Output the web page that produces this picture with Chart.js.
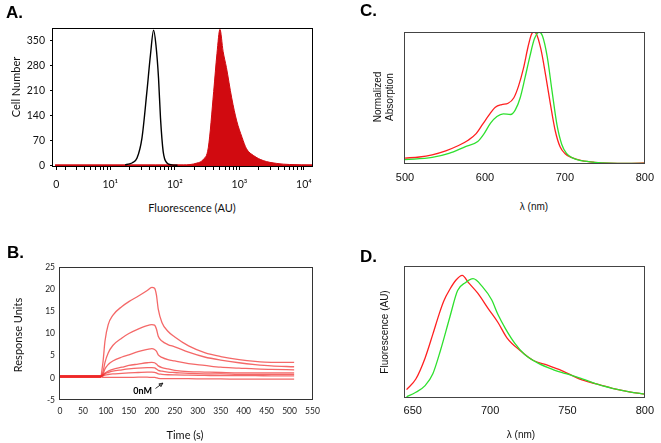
<!DOCTYPE html>
<html>
<head>
<meta charset="utf-8">
<script src="https://cdn.jsdelivr.net/npm/chart.js@4.4.0/dist/chart.umd.min.js"></script>
<style>
  body { margin: 0; background: #fff; }
  #fig { position: relative; width: 661px; height: 443px; overflow: hidden; background: #fff; }
  canvas { position: absolute; }
  .txt { position: absolute; white-space: nowrap; transform: translate(-50%, -50%); color: #111; }
  .rot { transform: translate(-50%, -50%) rotate(-90deg); }
  .letter { position: absolute; font: bold 17px "Liberation Sans", Arial, sans-serif; transform: translateY(-50%); color: #000; }
  .gill { font: 11px Lato, sans-serif; }
  .ari { font: 10px "Liberation Sans", Arial, sans-serif; text-align: center; line-height: 12px; }
</style>
</head>
<body>
<div id="fig">
  <canvas id="chart-a" style="left:0;top:0" width="330" height="200"></canvas>
  <canvas id="chart-b" style="left:0;top:230px" width="330" height="213"></canvas>
  <canvas id="chart-c" style="left:330px;top:0" width="331" height="200"></canvas>
  <canvas id="chart-d" style="left:330px;top:230px" width="331" height="213"></canvas>

  <div class="letter" style="left:6px;top:12.5px">A.</div>
  <div class="letter" style="left:7px;top:253px">B.</div>
  <div class="letter" style="left:360px;top:11px">C.</div>
  <div class="letter" style="left:360px;top:257px">D.</div>

  <div class="txt rot gill" style="left:15px;top:87px">Cell Number</div>
  <div class="txt gill" style="left:192px;top:207px">Fluorescence (AU)</div>
  <div class="txt rot gill" style="left:17px;top:335px">Response Units</div>
  <div class="txt gill" style="left:185px;top:434px">Time (s)</div>
  <div class="txt rot ari" style="left:384px;top:97px">Normalized<br>Absorption</div>
  <div class="txt ari" style="left:534px;top:207px">λ (nm)</div>
  <div class="txt rot ari" style="left:385px;top:332px">Fluorescence (AU)</div>
  <div class="txt ari" style="left:521px;top:435px">λ (nm)</div>
</div>
<script>
(function() {
  // A. flow cytometry histograms
  const FLUO_TICKS = [1.46, 10, 100, 1000, 10000];
  const FLUO_TICK_LABELS = ["0", "10¹", "10²", "10³", "10⁴"];
  const FLUO_MINOR = [2, 3, 4, 5, 6, 7, 8, 9, 20, 30, 40, 50, 60, 70, 80, 90,
    200, 300, 400, 500, 600, 700, 800, 900, 2000, 3000, 4000, 5000, 6000, 7000, 8000, 9000];
  const CELL_TICKS = [0, 70, 140, 210, 280, 350];
  const BLACK_FLUO = [17, 20, 22, 26, 31, 37, 42, 47, 51, 56, 60, 66, 75, 90, 110];
  const BLACK_COUNT = [2, 5, 8, 21, 77, 208, 311, 380, 339, 245, 134, 40, 8, 2, 1];
  const RED_FLUO = [1.4, 50, 135, 219, 275, 330, 400, 450, 500, 560, 630, 760, 910, 1100, 1290, 1660, 2340, 3800, 6000, 13800];
  const RED_COUNT = [2, 2, 2, 7, 17, 50, 208, 315, 382, 320, 275, 190, 125, 79, 47, 28, 14, 6, 3, 2];

  // B. binding response curves
  const TIME_S = [0, 50, 89, 91, 94, 98, 105, 115, 135, 150, 170, 190, 200, 206, 210, 214, 222, 235, 250, 280, 315, 350, 390, 425, 460, 510];
  const RU_1 = [0.3, 0.3, 0.3, 1.5, 3.9, 8.3, 12, 14.1, 16.1, 17.2, 18.4, 19.7, 20.4, 20.2, 18.7, 15.5, 12.5, 10.5, 9.2, 7.2, 5.7, 4.8, 4.1, 3.7, 3.5, 3.5];
  const RU_2 = [0.3, 0.3, 0.3, 0.6, 1.5, 3.5, 5.6, 7.3, 9.0, 10.0, 11.0, 11.8, 12.0, 11.9, 11.0, 9.4, 8.3, 7.5, 7.0, 5.8, 4.7, 4.0, 3.4, 3.0, 2.7, 2.5];
  const RU_3 = [0.3, 0.3, 0.3, 0.5, 0.9, 2.0, 3.0, 3.8, 4.7, 5.2, 5.9, 6.4, 6.6, 6.4, 6.0, 5.2, 4.6, 4.1, 3.8, 3.2, 2.8, 2.4, 2.2, 2.0, 1.9, 1.8];
  const RU_4 = [0.3, 0.3, 0.3, 0.4, 0.7, 1.1, 1.5, 1.9, 2.4, 2.8, 3.1, 3.4, 3.5, 3.4, 3.1, 2.7, 2.3, 2.0, 1.7, 1.4, 1.3, 1.2, 1.1, 1.1, 1.1, 1.1];
  const RU_5 = [0.3, 0.3, 0.3, 0.35, 0.6, 0.9, 1.2, 1.5, 1.8, 2.0, 2.2, 2.3, 2.3, 2.25, 2.0, 1.7, 1.5, 1.3, 1.2, 1.0, 0.9, 0.9, 0.8, 0.8, 0.8, 0.8];
  const RU_6 = [0.3, 0.3, 0.3, 0.3, 0.45, 0.6, 0.75, 0.9, 1.0, 1.1, 1.2, 1.3, 1.3, 1.25, 1.1, 0.9, 0.8, 0.7, 0.65, 0.6, 0.55, 0.5, 0.5, 0.5, 0.45, 0.45];
  const RU_0NM = [0.3, 0.3, 0.3, 0.2, 0.1, 0.1, 0.1, 0.1, 0.1, 0.1, 0.15, 0.15, 0.1, 0.1, 0.0, -0.1, -0.2, -0.2, -0.2, -0.2, -0.25, -0.25, -0.3, -0.3, -0.3, -0.3];
  const RU_SERIES = [RU_1, RU_2, RU_3, RU_4, RU_5, RU_6, RU_0NM];

  // C. absorption spectra
  const ABS_RED_NM = [500, 518, 534, 551, 567, 579, 589, 597, 605, 613, 621, 629, 636, 642, 648, 654, 658, 661, 664, 670, 676, 682, 688, 694, 700, 708, 721, 737, 777, 800];
  const ABS_RED = [0.045, 0.053, 0.07, 0.10, 0.14, 0.18, 0.23, 0.30, 0.37, 0.43, 0.45, 0.46, 0.50, 0.59, 0.72, 0.89, 0.98, 1.0, 0.99, 0.87, 0.67, 0.45, 0.25, 0.13, 0.08, 0.05, 0.025, 0.013, 0.005, 0.008];
  const ABS_GREEN_NM = [500, 534, 555, 575, 591, 599, 607, 615, 623, 632, 638, 644, 650, 656, 662, 668, 672, 678, 684, 690, 696, 702, 710, 721, 737, 777, 800];
  const ABS_GREEN = [0.033, 0.05, 0.08, 0.13, 0.17, 0.23, 0.31, 0.36, 0.38, 0.375, 0.41, 0.50, 0.65, 0.81, 0.95, 1.0, 0.97, 0.81, 0.55, 0.30, 0.15, 0.08, 0.045, 0.025, 0.013, 0.005, 0.005];

  // D. emission spectra
  const EM_TICKS = [650, 700, 750, 800];
  const EM_RED_NM = [646, 652, 658, 663, 667, 670, 674, 678, 682, 686, 692, 699, 705, 711, 720, 728, 737, 747, 758, 768, 779, 790, 800];
  const EM_RED = [0.06, 0.14, 0.30, 0.48, 0.63, 0.73, 0.82, 0.89, 0.925, 0.87, 0.79, 0.67, 0.57, 0.45, 0.35, 0.28, 0.245, 0.20, 0.14, 0.105, 0.07, 0.043, 0.025];
  const EM_GREEN_NM = [646, 652, 658, 663, 668, 674, 679, 684, 689, 695, 701, 705, 710, 716, 722, 731, 741, 749, 760, 768, 779, 790, 800];
  const EM_GREEN = [0.005, 0.04, 0.09, 0.18, 0.36, 0.61, 0.81, 0.87, 0.90, 0.84, 0.74, 0.63, 0.52, 0.41, 0.33, 0.26, 0.21, 0.18, 0.14, 0.105, 0.07, 0.043, 0.025];

  const SPEC_RED = "#ff2020";
  const SPEC_GREEN = "#2ee02e";

  window.addEventListener("load", main);

  function main() {
    Chart.defaults.animation = false;
    Chart.defaults.responsive = false;
    Chart.defaults.devicePixelRatio = 1;
    Chart.defaults.plugins.legend.display = false;
    Chart.defaults.plugins.tooltip.enabled = false;
    Chart.defaults.elements.point.radius = 0;
    drawPanelA();
    drawPanelB();
    drawPanelC();
    drawPanelD();
  }

  // box round the plot area
  const framePlugin = {
    id: "frame",
    afterDatasetsDraw(chart, args, opts) {
      let a = chart.chartArea;
      let ctx = chart.ctx;
      ctx.save();
      ctx.strokeStyle = opts.color || "#000";
      ctx.lineWidth = 1;
      ctx.strokeRect(Math.round(a.left) - 0.5, Math.round(a.top) + 0.5,
        Math.round(a.right - a.left), Math.round(a.bottom - a.top) - 1);
      ctx.restore();
    }
  };

  // "0nM" label with a little arrow, in data units
  const zeroLabelPlugin = {
    id: "zeroLabel",
    afterDatasetsDraw(chart) {
      let x = chart.scales.x;
      let y = chart.scales.y;
      let ctx = chart.ctx;
      ctx.save();
      ctx.fillStyle = "#000";
      ctx.font = "bold 9px Lato, sans-serif";
      ctx.textAlign = "center";
      ctx.textBaseline = "middle";
      ctx.fillText("0nM", x.getPixelForValue(180), y.getPixelForValue(-3.0));
      let x0 = x.getPixelForValue(208), y0 = y.getPixelForValue(-2.4);
      let x1 = x.getPixelForValue(224), y1 = y.getPixelForValue(-1.2);
      ctx.strokeStyle = "#000";
      ctx.lineWidth = 0.8;
      ctx.beginPath();
      ctx.moveTo(x0, y0);
      ctx.lineTo(x1, y1);
      ctx.stroke();
      let ang = Math.atan2(y1 - y0, x1 - x0);
      ctx.beginPath();
      ctx.moveTo(x1, y1);
      ctx.lineTo(x1 - 4 * Math.cos(ang - 0.45), y1 - 4 * Math.sin(ang - 0.45));
      ctx.lineTo(x1 - 4 * Math.cos(ang + 0.45), y1 - 4 * Math.sin(ang + 0.45));
      ctx.closePath();
      ctx.stroke();
      ctx.restore();
    }
  };

  function toPoints(xs, ys) {
    let pts = [];
    for (let i = 0; i < xs.length; i++) {
      pts.push({x: xs[i], y: ys[i]});
    }
    return pts;
  }

  function fixWidth(w) {
    return function(scale) { scale.width = w; };
  }

  function fixHeight(h) {
    return function(scale) { scale.height = h; };
  }

  function drawPanelA() {
    let ctx = document.getElementById("chart-a").getContext("2d");
    new Chart(ctx, {
      type: "line",
      data: {
        datasets: [{
          data: toPoints(BLACK_FLUO, BLACK_COUNT),
          borderColor: "#000",
          borderWidth: 1.4,
          cubicInterpolationMode: "monotone"
        }, {
          data: toPoints(RED_FLUO, RED_COUNT),
          borderColor: "#d10a10",
          backgroundColor: "#d10a10",
          borderWidth: 1,
          fill: "start",
          cubicInterpolationMode: "monotone"
        }]
      },
      options: {
        layout: {padding: {left: 0, top: 28, right: 17, bottom: 0}},
        scales: {
          x: {
            type: "logarithmic",
            min: 1.3,
            max: 13800,
            afterFit: fixHeight(33),
            afterBuildTicks: function(scale) {
              scale.ticks = FLUO_TICKS.concat(FLUO_MINOR).map(v => ({value: v}));
            },
            border: {display: false},
            grid: {drawOnChartArea: false, tickLength: 3, color: "#000"},
            ticks: {
              autoSkip: false,
              maxRotation: 0,
              padding: 8,
              color: "#111",
              font: {family: "Lato", size: 10.5},
              callback: function(value) {
                let i = FLUO_TICKS.indexOf(value);
                return i >= 0 ? FLUO_TICK_LABELS[i] : "";
              }
            }
          },
          y: {
            min: -4,
            max: 386,
            afterFit: fixWidth(53),
            afterBuildTicks: function(scale) {
              scale.ticks = CELL_TICKS.map(v => ({value: v}));
            },
            border: {display: false},
            grid: {drawOnChartArea: false, tickLength: 3, color: "#000"},
            ticks: {padding: 5, color: "#111", font: {family: "Lato", size: 10.5}}
          }
        },
        plugins: {frame: {color: "#000"}}
      },
      plugins: [framePlugin]
    });
  }

  function drawPanelB() {
    let ctx = document.getElementById("chart-b").getContext("2d");
    let sets = [];
    for (let i = 0; i < RU_SERIES.length; i++) {
      sets.push({
        data: toPoints(TIME_S, RU_SERIES[i]),
        borderColor: "rgba(240, 40, 40, 0.7)",
        borderWidth: 1.3,
        cubicInterpolationMode: "monotone",
        // the pre-injection baseline looks heavier in the original
        segment: {borderWidth: c => c.p1.parsed.x <= 89 ? 2.2 : undefined}
      });
    }
    new Chart(ctx, {
      type: "line",
      data: {datasets: sets},
      options: {
        layout: {padding: {left: 0, top: 37, right: 17.5, bottom: 0}},
        scales: {
          x: {
            type: "linear",
            min: 0,
            max: 550,
            afterFit: fixHeight(43),
            border: {display: false},
            grid: {display: false, drawTicks: false},
            ticks: {stepSize: 50, autoSkip: false, maxRotation: 0, padding: 6, color: "#222", font: {family: "Lato", size: 8.5}}
          },
          y: {
            min: -5,
            max: 25,
            afterFit: fixWidth(60),
            border: {display: false},
            grid: {display: false, drawTicks: false},
            ticks: {stepSize: 5, padding: 5, color: "#222", font: {family: "Lato", size: 8.5}}
          }
        },
        plugins: {frame: {color: "#333"}}
      },
      plugins: [framePlugin, zeroLabelPlugin]
    });
  }

  function spectrumChart(id, redX, redY, greenX, greenY, xOpts, pad, axisH) {
    let ctx = document.getElementById(id).getContext("2d");
    return new Chart(ctx, {
      type: "line",
      data: {
        datasets: [{
          data: toPoints(greenX, greenY),
          borderColor: SPEC_GREEN,
          borderWidth: 1.3,
          cubicInterpolationMode: "monotone"
        }, {
          data: toPoints(redX, redY),
          borderColor: SPEC_RED,
          borderWidth: 1.3,
          cubicInterpolationMode: "monotone"
        }]
      },
      options: {
        layout: {padding: pad},
        scales: {
          x: Object.assign({
            type: "linear",
            afterFit: fixHeight(axisH),
            border: {display: false},
            grid: {display: false, drawTicks: false},
            ticks: {autoSkip: false, maxRotation: 0, padding: 7, color: "#111",
              font: {family: "Liberation Sans", size: 11}}
          }, xOpts),
          y: {min: 0, max: 1, display: false}
        },
        plugins: {frame: {color: "#444"}}
      },
      plugins: [framePlugin]
    });
  }

  function drawPanelC() {
    spectrumChart("chart-c", ABS_RED_NM, ABS_RED, ABS_GREEN_NM, ABS_GREEN,
      {min: 500, max: 800, ticks: {stepSize: 100, autoSkip: false, maxRotation: 0, padding: 7, color: "#111",
        font: {family: "Liberation Sans", size: 11}}},
      {left: 75, top: 32, right: 10, bottom: 0}, 36);
  }

  function drawPanelD() {
    spectrumChart("chart-d", EM_RED_NM, EM_RED, EM_GREEN_NM, EM_GREEN,
      {min: 645, max: 800, afterBuildTicks: function(scale) {
        scale.ticks = EM_TICKS.map(v => ({value: v}));
      }},
      {left: 75, top: 35.5, right: 11, bottom: 0}, 45.5);
  }
})();
</script>
</body>
</html>
